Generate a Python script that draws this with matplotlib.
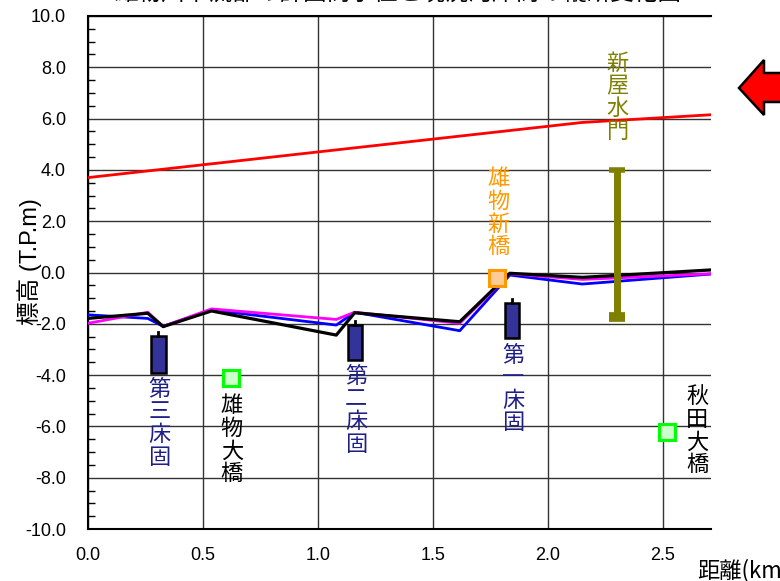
import matplotlib
matplotlib.use("Agg")
import matplotlib.pyplot as plt
from matplotlib.patches import Polygon
from matplotlib.ticker import MultipleLocator, FuncFormatter

plt.rcParams['font.family'] = ['Liberation Sans', 'Noto Sans CJK JP']
plt.rcParams['axes.unicode_minus'] = False
CJK = ['Noto Sans CJK JP', 'DejaVu Sans']

# 計画高水位 (km, T.P.m)
hwl_km = [0.0, 2.15, 2.71]
hwl_el = [3.70, 5.85, 6.15]

# 河床高 縦断 (km, T.P.m)
bed_km = [0.0, 0.26, 0.327, 0.537, 1.08, 1.16, 1.617, 1.835, 2.15, 2.71]
bed_blue = [-1.65, -1.79, -2.10, -1.46, -2.05, -1.55, -2.27, -0.10, -0.45, -0.06]
bed_magenta = [-1.98, -1.55, -2.10, -1.42, -1.83, -1.55, -1.98, -0.05, -0.27, -0.05]
bed_black = [-1.79, -1.59, -2.11, -1.50, -2.44, -1.57, -1.92, -0.03, -0.19, 0.10]

# 床固
sill_names = ['第三床固', '第二床固', '第一床固']
sill_km = [0.306, 1.161, 1.844]
sill_top = [-2.48, -2.03, -1.18]
sill_bottom = [-3.90, -3.40, -2.57]

# 橋梁
bridge_names = ['雄物大橋', '雄物新橋', '秋田大橋']
bridge_km = [0.622, 1.781, 2.519]
bridge_el = [-4.1, -0.2, -6.2]

# 水門
gate_name = '新屋水門'
gate_km = 2.30
gate_top = 4.0
gate_bottom = -1.75

xticks = [0.0, 0.5, 1.0, 1.5, 2.0, 2.5]
yticks = [-10.0, -8.0, -6.0, -4.0, -2.0, 0.0, 2.0, 4.0, 6.0, 8.0, 10.0]

fig = plt.figure(figsize=(7.8, 5.81), dpi=100)
ax = fig.add_axes([88 / 780, 1 - 529 / 581, (711 - 88) / 780, (529 - 16) / 581])

ax.set_xlim(0, 2.71)
ax.set_ylim(-10, 10)
ax.set_xticks(xticks)
ax.set_yticks(yticks)
ax.yaxis.set_minor_locator(MultipleLocator(0.5))
ax.xaxis.set_major_formatter(FuncFormatter(lambda v, p: f"{v:.1f}"))
ax.yaxis.set_major_formatter(FuncFormatter(lambda v, p: f"{v:.1f}"))
ax.grid(True, color='#333333', linewidth=1.0)
ax.set_axisbelow(True)
ax.tick_params(axis='x', length=0, pad=13, labelsize=13)
ax.tick_params(axis='y', which='major', direction='in', length=0, pad=16, labelsize=13)
ax.tick_params(axis='y', which='minor', direction='in', length=5, width=1)
for side in ['left', 'bottom', 'top']:
    ax.spines[side].set_linewidth(1.5)
ax.spines['right'].set_visible(False)

# 河床縦断
ax.plot(bed_km, bed_blue, color='#0000ff', lw=2, zorder=3)
ax.plot(bed_km, bed_magenta, color='#ff00ff', lw=2, zorder=3)
ax.plot(bed_km, bed_black, color='#000000', lw=2.3, zorder=3)
ax.plot(hwl_km, hwl_el, color='#ff0000', lw=2, zorder=3)

LABEL_FS = 16
LABEL_LS = 0.98

# 床固
w = 0.064
for name, k, t, b in zip(sill_names, sill_km, sill_top, sill_bottom):
    ax.bar(k, t - b, bottom=b, width=w, color='#333399', edgecolor='black',
           linewidth=1.8, zorder=4)
    ax.plot([k, k], [t, t + 0.15], color='black', lw=2, zorder=4)
    ax.text(k + 0.005, b - 0.2, '\n'.join(name), ha='center', va='top',
            fontsize=LABEL_FS, color='#1f1f88', family=CJK,
            linespacing=LABEL_LS, zorder=5)

# 橋梁
bridge_face = ['#ccffcc', '#ffcc99', '#ccffcc']
bridge_edge = ['#00ff00', '#ff9900', '#00ff00']
for k, e, fc, ec in zip(bridge_km, bridge_el, bridge_face, bridge_edge):
    ax.plot(k, e, marker='s', markersize=12, markerfacecolor=fc,
            markeredgecolor=ec, markeredgewidth=2.2, zorder=6, clip_on=False)

ax.text(0.625, -4.75, '\n'.join(bridge_names[0]), ha='center', va='top',
        fontsize=LABEL_FS, color='black', family=CJK, linespacing=LABEL_LS)
ax.text(1.787, 0.55, '\n'.join(bridge_names[1]), ha='center', va='bottom',
        fontsize=LABEL_FS, color='#ff9900', family=CJK, linespacing=LABEL_LS)
ax.text(2.65, -4.4, '\n'.join(bridge_names[2]), ha='center', va='top',
        fontsize=LABEL_FS, color='black', family=CJK, linespacing=LABEL_LS,
        clip_on=False)

# 水門
ax.plot([gate_km, gate_km], [gate_bottom, gate_top], color='#808000', lw=5,
        solid_capstyle='butt', zorder=5)
ax.plot([gate_km - 0.034, gate_km + 0.034], [gate_top, gate_top],
        color='#808000', lw=4, solid_capstyle='butt', zorder=5)
ax.plot([gate_km - 0.034, gate_km + 0.034], [gate_bottom, gate_bottom],
        color='#808000', lw=7, solid_capstyle='butt', zorder=5)
ax.text(2.304, 8.6, '\n'.join(gate_name), ha='center', va='top',
        fontsize=LABEL_FS, color='#808000', family=CJK, linespacing=LABEL_LS)

# 軸ラベル
fig.text(30 / 780, 1 - 262 / 581, '標高 (T.P.m)', rotation=90, ha='center',
         va='center', fontsize=17)
fig.text(697 / 780, 1 - 571 / 581, '距離(km)', ha='left', va='center',
         fontsize=16, family=CJK)

# 表題
fig.text(0.51, 1 - 5 / 581, '雄物川下流部の計画高水位と現況河床高の縦断変化図',
         ha='center', va='bottom', fontsize=17, family=CJK)

# 流下方向
arrow_px = [(739, 88), (764, 60), (764, 73), (790, 73), (790, 102),
            (764, 102), (764, 115)]
arrow = Polygon([(x / 780, 1 - y / 581) for x, y in arrow_px], closed=True,
                facecolor='#ff0000', edgecolor='black', linewidth=1.8,
                transform=fig.transFigure)
fig.patches.append(arrow)

fig.savefig('out.png', dpi=100)
